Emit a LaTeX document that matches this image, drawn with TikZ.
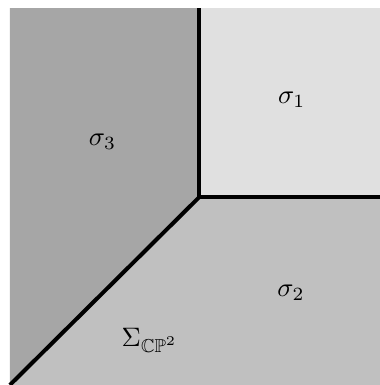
\documentclass[tikz,border=0pt]{standalone}
\usepackage{amssymb}
\usepackage{amsmath}
\usetikzlibrary{calc}
\definecolor{fandark}  {RGB}{166, 166, 166}
\definecolor{fanmid}   {RGB}{192, 192, 192}
\definecolor{fanlight} {RGB}{224, 224, 224}
\begin{document}
\begin{tikzpicture}[ray/.style={line width=1.5pt}]
	\useasboundingbox (0,0) rectangle (5,5.066);
	\coordinate (o) at (2.62,2.47);
	\coordinate (top) at (2.62,4.96); \coordinate (right) at (5,2.47);
	\coordinate (diag) at (0.13,0);
	% cones
	\fill[fandark] (diag) -- (0.13,4.96) -- (top) -- (o) -- cycle;
	\fill[fanlight] (o) rectangle (5,4.96);
	\fill[fanmid] (diag) -- (o) -- (right) -- (5,0) -- cycle;
	% rays
	\draw[ray] (top) -- (o) -- (right); \draw[ray] (o) -- (diag);
	\node (s1) at (3.84,3.75) {$\sigma_1$};
	\node (s2) at (3.83,1.22) {$\sigma_2$};
	\node (s3) at (1.35,3.20) {$\sigma_3$};
	\node (fan) at (1.97,0.59) {$\Sigma_{\mathbb{CP}^2}$};
\end{tikzpicture}
\end{document}
